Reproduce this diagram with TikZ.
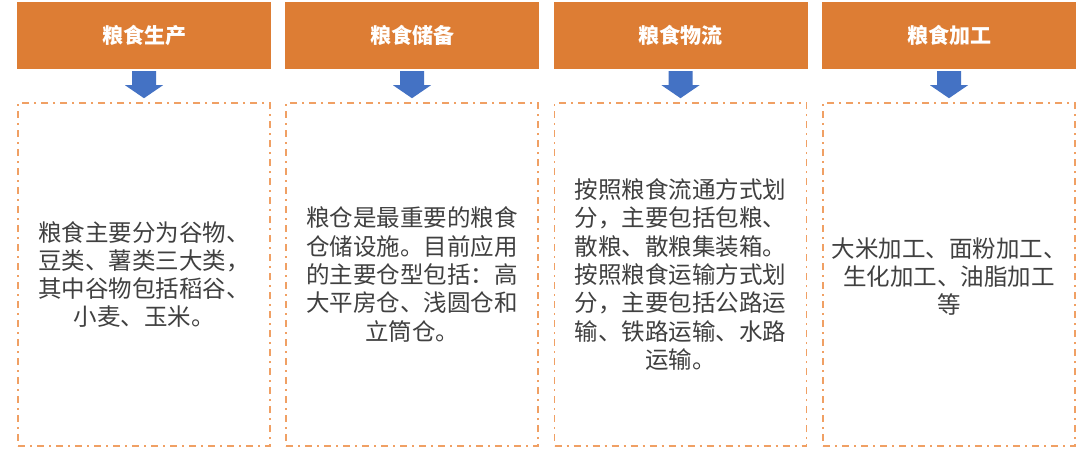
\documentclass[tikz,border=0pt]{standalone}
\usepackage{fontspec}
\newfontfamily\cjk{Noto Sans CJK SC}
\usetikzlibrary{calc}
\definecolor{hdr}{RGB}{221,125,52}
\definecolor{dashor}{RGB}{240,160,100}
\definecolor{blu}{RGB}{68,114,196}
\definecolor{txt}{RGB}{64,64,64}
\begin{document}
\begin{tikzpicture}[x=1pt,y=-1pt,
 header/.style={fill=hdr, draw=none, minimum width=254pt, minimum height=67pt, inner sep=0pt, text=white, font=\cjk\bfseries\fontsize{21}{25}\selectfont},
 bodybox/.style={draw=dashor, line width=1.6pt, dash pattern=on 7pt off 5pt on 2pt off 5pt, minimum width=252pt, minimum height=343pt, inner sep=0pt},
 bodytext/.style={text=txt, align=center, font=\cjk\fontsize{23.5}{28.3}\selectfont, inner sep=0pt},
 blockarr/.style={fill=blu, draw=none}]
\useasboundingbox[fill=white] (0,0) rectangle (1089,455);
\foreach \i/\x/\t in {1/144/粮食生产, 2/412/粮食储备, 3/680.5/粮食物流, 4/949/粮食加工}{
  \node[header] (h\i) at (\x,35.5) {\t};
  \node[bodybox] (b\i) at (\x,274.5) {};
  \fill[blockarr] ($(h\i.south)+(-12,2)$) -- ($(h\i.south)+(12,2)$) -- ($(h\i.south)+(12,16)$) -- ($(h\i.south)+(19,16)$) -- ($(b\i.north)+(0,-4)$) -- ($(h\i.south)+(-19,16)$) -- ($(h\i.south)+(-12,16)$) -- cycle;
}
\node[bodytext] (t1) at (b1.center) {粮食主要分为谷物、\\豆类、薯类三大类，\\其中谷物包括稻谷、\\小麦、玉米。};
\node[bodytext] (t2) at (b2.center) {粮仓是最重要的粮食\\仓储设施。目前应用\\的主要仓型包括：高\\大平房仓、浅圆仓和\\立筒仓。};
\node[bodytext] (t3) at (b3.center) {按照粮食流通方式划\\分，主要包括包粮、\\散粮、散粮集装箱。\\按照粮食运输方式划\\分，主要包括公路运\\输、铁路运输、水路\\运输。};
\node[bodytext] (t4) at ($(b4.center)+(0,2)$) {大米加工、面粉加工、\\生化加工、油脂加工\\等};
\end{tikzpicture}
\end{document}
